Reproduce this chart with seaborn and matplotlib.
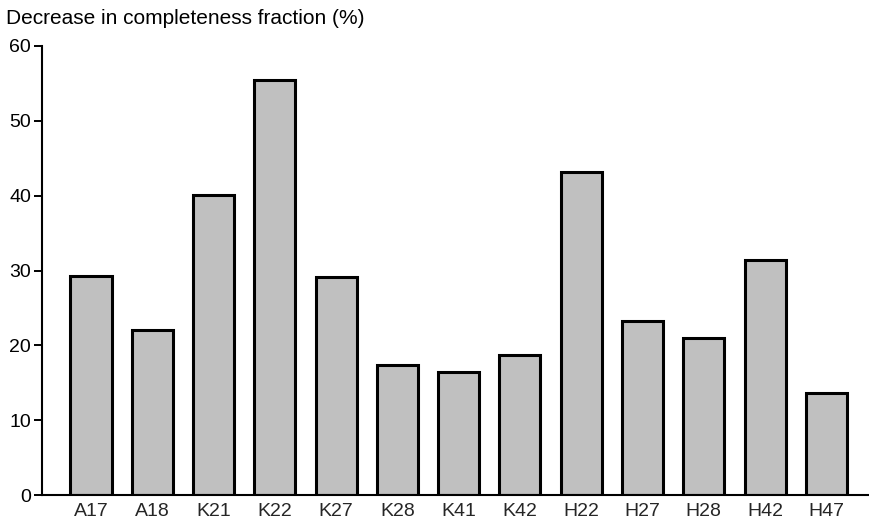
import matplotlib
matplotlib.use("Agg")
import matplotlib.pyplot as plt
import seaborn as sns
import pandas as pd

# Samples and the drop in completeness fraction for each
samples = ["A17", "A18", "K21", "K22", "K27", "K28", "K41", "K42",
           "H22", "H27", "H28", "H42", "H47"]
decrease = [29.3, 22.1, 40.1, 55.5, 29.1, 17.4, 16.4, 18.7,
            43.2, 23.3, 21.0, 31.4, 13.6]
yticks = [0, 10, 20, 30, 40, 50, 60]

sns.set_theme(style="white")
plt.rcParams["font.family"] = ["Liberation Sans", "DejaVu Sans"]

df = pd.DataFrame({"sample": samples, "decrease": decrease})

W, H = 869, 525
fig = plt.figure(figsize=(W / 100, H / 100), dpi=100)
ax = fig.add_axes([42 / W, 30 / H, (868 - 42) / W, (495 - 46) / H])

sns.barplot(data=df, x="sample", y="decrease", order=samples,
            color="#c0c0c0", saturation=1, edgecolor="black",
            linewidth=2.2, width=0.67, ax=ax)

ax.set_ylim(0, 60)
ax.set_xlim(-0.8, 12.68)
ax.set_yticks(yticks)
ax.set_yticklabels([str(t) for t in yticks], fontsize=14)
ax.tick_params(axis="x", length=0, labelsize=14, pad=6)
ax.tick_params(axis="y", length=6, width=1.4, direction="out",
               left=True, pad=2, colors="black")
ax.set_xlabel("")
ax.set_ylabel("")

for side in ["top", "right"]:
    ax.spines[side].set_visible(False)
for side in ["left", "bottom"]:
    ax.spines[side].set_color("black")
    ax.spines[side].set_linewidth(1.5)

fig.text(6 / W, 1 - 18 / H, "Decrease in completeness fraction (%)",
         fontsize=15, ha="left", va="center", color="black")

fig.savefig("out.png", dpi=100, facecolor="white")
